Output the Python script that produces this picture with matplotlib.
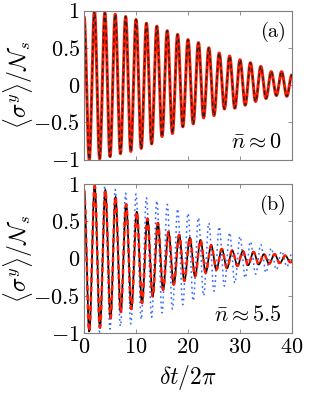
import matplotlib
matplotlib.use("Agg")
import matplotlib.pyplot as plt
import numpy as np

plt.rcParams['mathtext.fontset'] = 'cm'
plt.rcParams['font.family'] = 'serif'
plt.rcParams['font.serif'] = ['cmr10', 'DejaVu Serif']

# extrema (peaks at even t, troughs in between)
# panel (a), n ~ 0
t_a = list(range(0, 41))
peaks_a = [0.92, 1.0, 0.97, 0.95, 0.92, 0.88, 0.83, 0.79, 0.73, 0.68, 0.61,
           0.57, 0.50, 0.43, 0.39, 0.34, 0.30, 0.25, 0.18, 0.18, 0.14]
troughs_a = [-1.0, -0.99, -0.96, -0.92, -0.89, -0.85, -0.79, -0.69, -0.65, -0.56,
             -0.52, -0.44, -0.41, -0.32, -0.31, -0.27, -0.22, -0.18, -0.14, -0.15]

# panel (b), n ~ 5.5 : black / red curve
tpk_b = [0, 2.05, 4.1, 6.05, 8.1, 10.15, 12.2, 14.2, 16.25, 18.3, 20.35,
         22.4, 24.45, 26.5, 28.5, 30.55, 32.6, 34.6, 36.65, 38.7, 40.7]
ttr_b = [1.0, 3.05, 5.1, 7.05, 9.1, 11.15, 13.2, 15.2, 17.25, 19.3,
         21.35, 23.4, 25.45, 27.5, 29.5, 31.55, 33.6, 35.6, 37.65, 39.7]
peaks_b = [0.92, 0.98, 0.92, 0.83, 0.73, 0.63, 0.54, 0.48, 0.36, 0.32, 0.28,
           0.25, 0.18, 0.13, 0.11, 0.10, 0.09, 0.06, 0.06, 0.04, 0.04]
troughs_b = [-0.98, -0.93, -0.80, -0.72, -0.68, -0.60, -0.51, -0.42, -0.35, -0.30,
             -0.24, -0.19, -0.15, -0.13, -0.10, -0.09, -0.08, -0.07, -0.06, -0.05]

# panel (b) blue dotted curve
peaks_blue = [0.92, 0.99, 0.98, 0.93, 0.88, 0.87, 0.82, 0.78, 0.73, 0.67, 0.61,
              0.55, 0.48, 0.43, 0.35, 0.30, 0.23, 0.19, 0.14, 0.10, 0.07]
troughs_blue = [-1.0, -0.99, -0.95, -0.91, -0.88, -0.82, -0.79, -0.73, -0.68, -0.62,
                -0.57, -0.50, -0.44, -0.37, -0.33, -0.26, -0.21, -0.19, -0.15, -0.11]

yticks = [-1, -0.5, 0, 0.5, 1]
ylabs = [r'$-1$', r'$-0.5$', r'$0$', r'$0.5$', r'$1$']
xticks = [0, 10, 20, 30, 40]
xlabs = [r'$0$', r'$10$', r'$20$', r'$30$', r'$40$']


def merge(tp, tt, yp, yt):
    ts, ys = [], []
    for i in range(len(tp)):
        ts.append(tp[i]); ys.append(yp[i])
        if i < len(tt):
            ts.append(tt[i]); ys.append(yt[i])
    return ts, ys


def wave(ts, ys, n=24):
    # smooth half-cosine between successive extrema
    xx, yy = [], []
    for k in range(len(ts) - 1):
        s = np.linspace(0, 1, n, endpoint=False)
        xx.extend(ts[k] + (ts[k+1] - ts[k]) * s)
        yy.extend(ys[k] + (ys[k+1] - ys[k]) * (1 - np.cos(np.pi * s)) / 2)
    xx.append(ts[-1]); yy.append(ys[-1])
    return np.array(xx), np.array(yy)


fig = plt.figure(figsize=(3.16, 3.93), dpi=100)
axa = fig.add_axes([0.266, 0.594, 0.658, 0.379])
axb = fig.add_axes([0.266, 0.153, 0.658, 0.378])

red = '#ff1c00'
blue = '#3a6cff'

ta, ya = wave(*merge(t_a[0::2], t_a[1::2], peaks_a, troughs_a))
axa.plot(ta, ya, color=red, lw=2.2, solid_capstyle='butt')
axa.plot(ta, ya, color='#222222', lw=1.0, dashes=(3, 2.2))

tbl, ybl = wave(*merge(t_a[0::2], t_a[1::2], peaks_blue, troughs_blue))
axb.plot(tbl, ybl, color=blue, lw=1.1, dashes=(1.2, 2.2))
tb, yb = wave(*merge(tpk_b, ttr_b, peaks_b, troughs_b))
axb.plot(tb, yb, color='black', lw=1.2)
axb.plot(tb, yb, color=red, lw=1.8, dashes=(2.2, 1.6))

for ax in (axa, axb):
    ax.set_xlim(0, 40)
    ax.set_ylim(-1, 1)
    ax.set_xticks(xticks)
    ax.set_yticks(yticks)
    ax.set_yticklabels(ylabs, fontsize=16)
    ax.tick_params(direction='in', top=True, right=True, length=3,
                   width=0.6, color='#7f7f7f', pad=3)
    for sp in ax.spines.values():
        sp.set_color('#7f7f7f')
        sp.set_linewidth(0.8)
    ax.set_ylabel(r'$\langle\sigma^y\rangle/\mathcal{N}_s$', fontsize=17)
    ax.yaxis.set_label_coords(-0.235, 0.5)

axa.set_xticklabels([])
axb.set_xticklabels(xlabs, fontsize=16)
axb.set_xlabel(r'$\delta t/2\pi$', fontsize=17, labelpad=5)

axa.text(0.97, 0.94, r'$\mathrm{(a)}$', transform=axa.transAxes,
         ha='right', va='top', fontsize=14.5)
axa.text(0.95, 0.05, r'$\bar{n}\approx 0$', transform=axa.transAxes,
         ha='right', va='bottom', fontsize=16)
axb.text(0.97, 0.94, r'$\mathrm{(b)}$', transform=axb.transAxes,
         ha='right', va='top', fontsize=14.5)
axb.text(0.95, 0.05, r'$\bar{n}\approx 5.5$', transform=axb.transAxes,
         ha='right', va='bottom', fontsize=16)

fig.savefig('out.png', dpi=100)
